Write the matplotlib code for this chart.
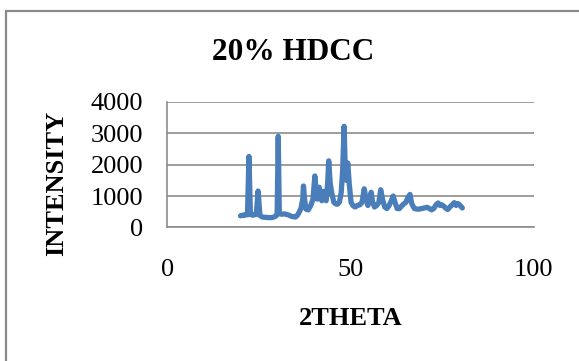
import matplotlib
matplotlib.use("Agg")
import matplotlib.pyplot as plt
from matplotlib.patches import Rectangle

plt.rcParams['font.family'] = ['Liberation Serif', 'DejaVu Serif']

# XRD pattern, 2theta (deg) vs intensity
two_theta = [20.0, 20.5, 21.0, 21.5, 21.9, 22.3, 22.7, 23.2, 23.7, 24.3,
             24.8, 25.3, 26.0, 27.0, 28.0, 28.8, 29.5, 30.0, 30.3, 30.6,
             31.2, 32.0, 33.0, 34.0, 35.0, 35.5, 36.0, 36.5, 37.0, 37.2,
             37.5, 37.9, 38.5, 39.2, 39.8, 40.3, 40.7, 41.0, 41.5, 41.9,
             42.2, 42.6, 43.0, 43.4, 43.8, 44.1, 44.5, 45.0, 45.5, 46.0,
             46.5, 47.0, 47.5, 47.9, 48.3, 48.6, 48.9, 49.3, 49.7, 50.2,
             50.7, 51.3, 52.0, 52.6, 53.2, 53.8, 54.3, 54.8, 55.3, 55.7,
             56.1, 56.6, 57.2, 57.8, 58.3, 58.8, 59.4, 60.0, 60.6, 61.2,
             61.7, 62.2, 62.8, 63.4, 64.0, 64.6, 65.2, 65.7, 66.3, 66.8,
             67.5, 68.5, 69.5, 70.2, 71.0, 71.6, 72.2, 72.8, 73.4, 74.0,
             74.5, 75.0, 75.5, 76.0, 76.6, 77.2, 77.8, 78.4, 78.9, 79.4,
             80.0, 80.6]
intensity = [370, 390, 380, 420, 400, 2260, 420, 390, 400, 420,
             1160, 380, 330, 320, 310, 320, 350, 400, 2900, 450,
             420, 430, 400, 350, 330, 380, 480, 600, 900, 1320,
             900, 580, 560, 700, 900, 1640, 1100, 900, 1280, 950,
             850, 1150, 1000, 850, 1400, 2120, 1400, 1050, 800, 750,
             740, 800, 1100, 1800, 3220, 1900, 1500, 2050, 1400, 800,
             700, 650, 700, 720, 800, 1230, 900, 700, 850, 1120,
             800, 650, 700, 800, 1200, 900, 650, 600, 700, 850,
             1000, 800, 600, 600, 680, 750, 800, 950, 1050, 750,
             600, 580, 600, 620, 640, 600, 560, 600, 720, 780,
             700, 720, 680, 620, 570, 650, 720, 790, 700, 760,
             700, 620]

x_ticks = [0, 50, 100]
y_ticks = [0, 1000, 2000, 3000, 4000]

fig = plt.figure(figsize=(5.79, 3.61), dpi=100)
ax = fig.add_axes([0.289, 0.370, 0.634, 0.348])

ax.plot(two_theta, intensity, color='#4A7EBB', lw=3.8,
        solid_joinstyle='round', solid_capstyle='round')

ax.set_xlim(0, 100.3)
ax.set_ylim(0, 4000)
ax.set_xticks(x_ticks)
ax.set_yticks(y_ticks)
ax.yaxis.grid(True, color='#8c8c8c', lw=1.2)
ax.set_axisbelow(True)
for s in ['top', 'right']:
    ax.spines[s].set_visible(False)
for s in ['left', 'bottom']:
    ax.spines[s].set_color('#8c8c8c')
    ax.spines[s].set_linewidth(1.2)
ax.tick_params(axis='y', length=0, pad=17.5, labelsize=19)
ax.tick_params(axis='x', length=0, pad=22.5, labelsize=19)

fig.text(0.506, 0.855, '20% HDCC', ha='center', va='center',
         fontsize=22.5, fontweight='bold')
fig.text(0.606, 0.119, '2THETA', ha='center', va='center',
         fontsize=19, fontweight='bold')
fig.text(0.097, 0.493, 'INTENSITY', ha='center', va='center',
         rotation=90, fontsize=19, fontweight='bold')

# chart frame
fig.add_artist(Rectangle((6 / 579, -0.05), 1.2, 1 - 11 / 361 + 0.05,
                         transform=fig.transFigure, fill=False,
                         edgecolor='#8a8a8a', lw=1.6))

fig.savefig('out.png', dpi=100)
